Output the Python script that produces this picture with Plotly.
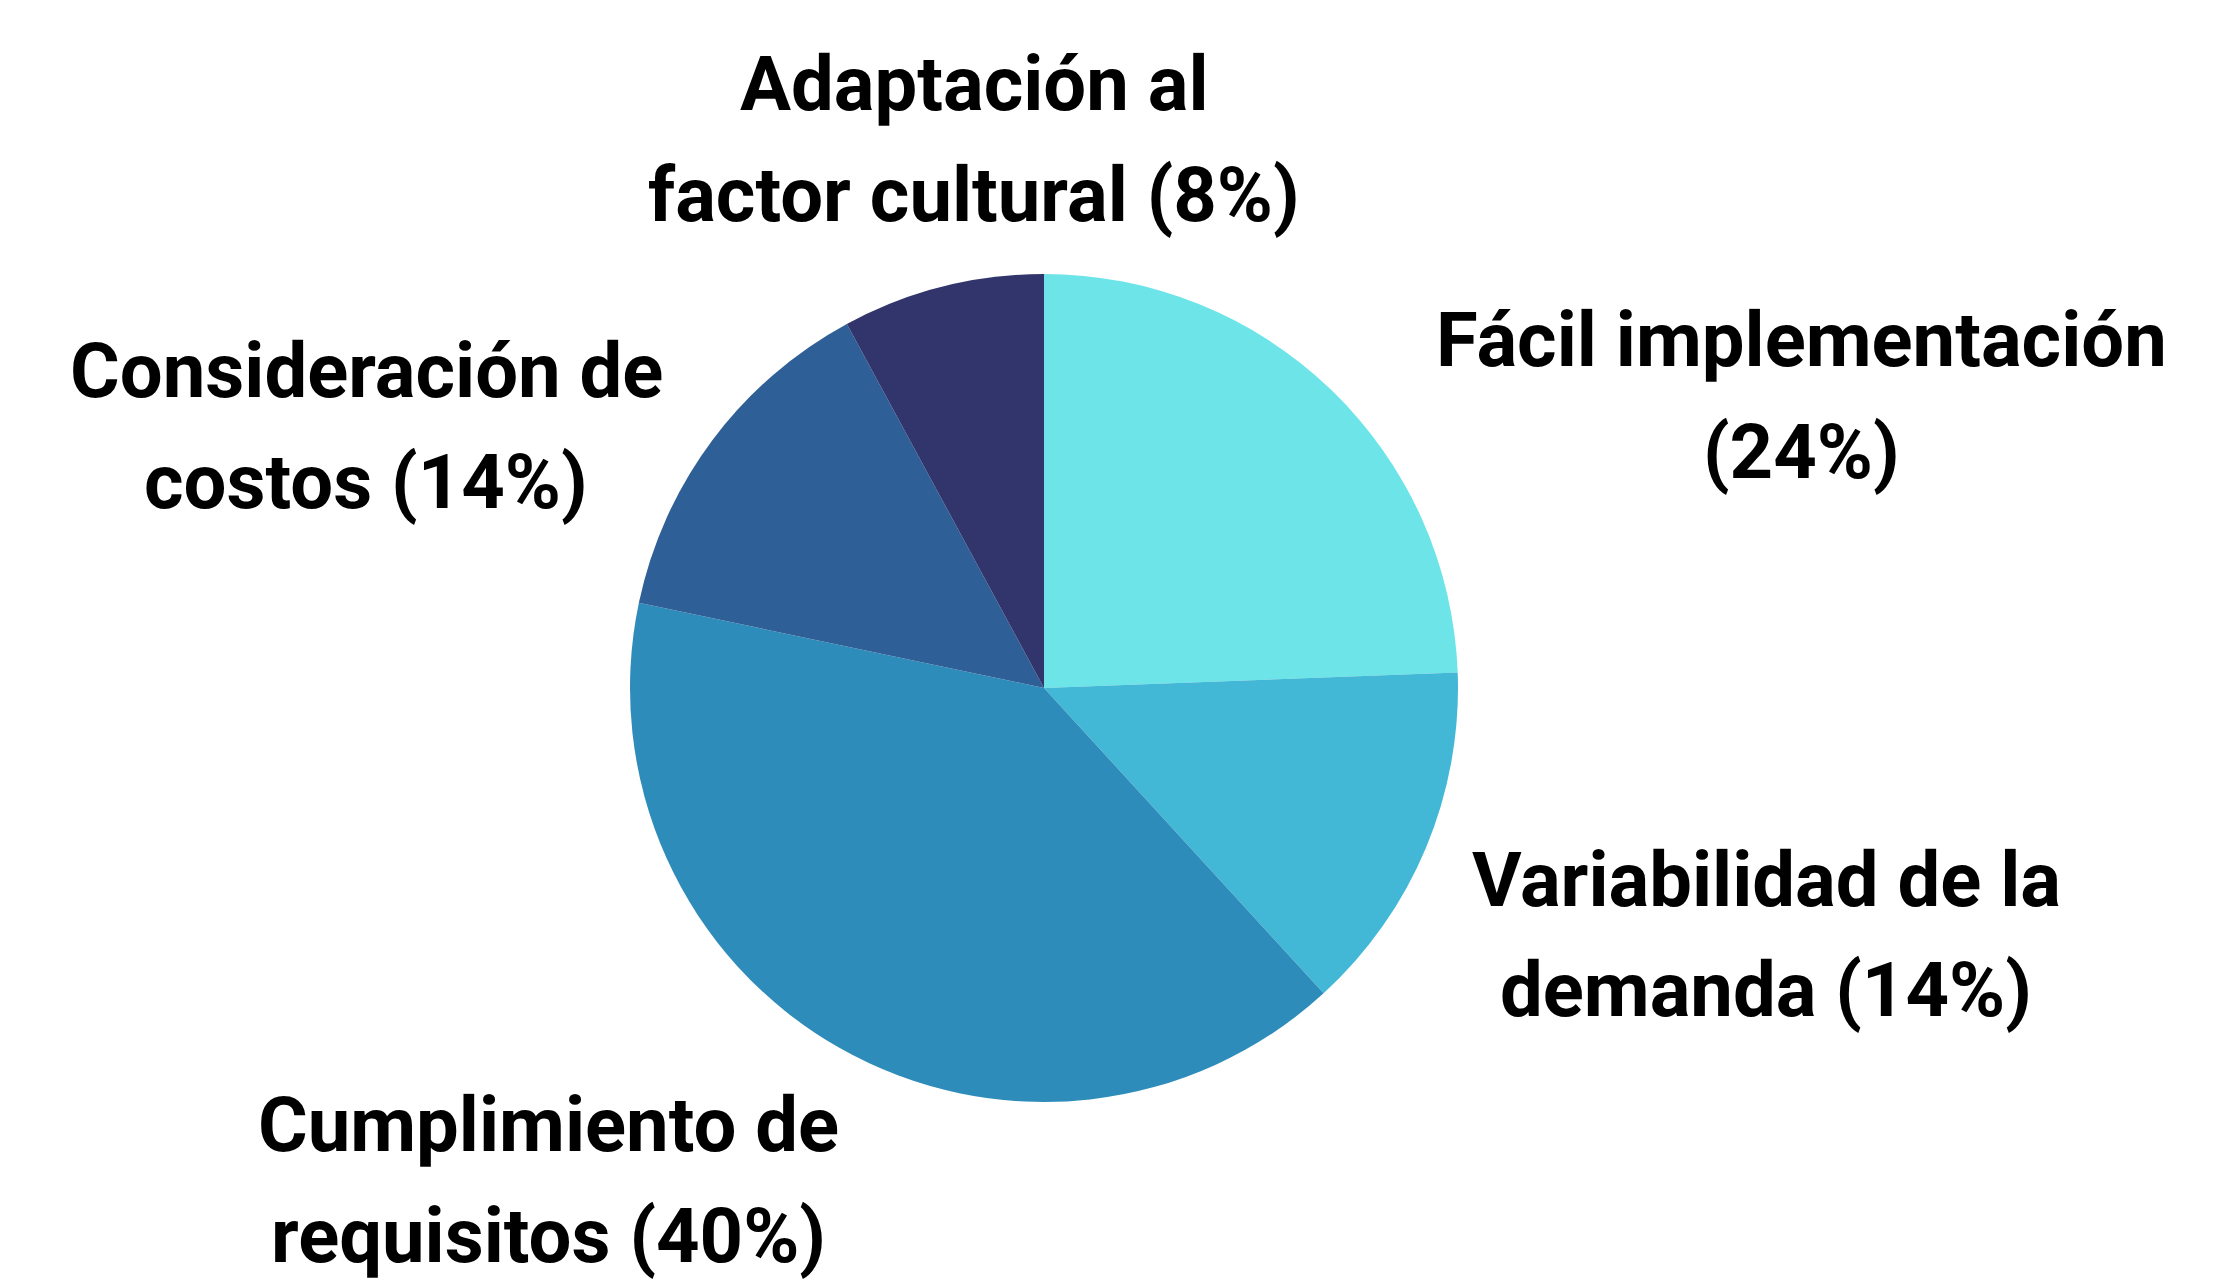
import plotly.graph_objects as go

categorias = ["Fácil implementación", "Variabilidad de la demanda", "Cumplimiento de requisitos",
              "Consideración de costos", "Adaptación al factor cultural"]
valores = [24.4, 13.8, 40.1, 13.8, 7.9]
etiquetas_pct = ["24%", "14%", "40%", "14%", "8%"]
colores = ["#6CE4E8", "#43B7D6", "#2E8CBA", "#2F5F97", "#31356C"]

# cada etiqueta en dos renglones, como en el original
renglones = [
    ("Fácil implementación", "(24%)"),
    ("Variabilidad de la", "demanda (14%)"),
    ("Cumplimiento de", "requisitos (40%)"),
    ("Consideración de", "costos (14%)"),
    ("Adaptación al", "factor cultural (8%)"),
]
# centro de cada bloque de texto (px, desde arriba-izquierda)
pos_etiquetas = [(1793, 388), (1758, 927), (540, 1172), (358, 418), (966, 131)]

W, H = 2227, 1279
cx, cy, r = 1036, 680, 414

fig = go.Figure(go.Pie(
    labels=categorias, values=valores, sort=False, direction="clockwise",
    marker=dict(colors=colores, line=dict(width=0)),
    textinfo="none", hoverinfo="label+percent",
    domain=dict(x=[(cx - r) / W, (cx + r) / W], y=[(H - cy - r) / H, (H - cy + r) / H]),
))

paso = 111
for (l1, l2), (x, y) in zip(renglones, pos_etiquetas):
    for txt, yy in ((l1, y - paso / 2), (l2, y + paso / 2)):
        fig.add_annotation(x=x / W, y=1 - yy / H, xref="paper", yref="paper",
                           text=txt, showarrow=False, xanchor="center", yanchor="middle",
                           font=dict(family="Roboto", size=76, color="#000000", weight="bold"))

fig.update_layout(width=W, height=H, margin=dict(l=0, r=0, t=0, b=0),
                  paper_bgcolor="white", plot_bgcolor="white", showlegend=False)
fig.write_html("out.html")
